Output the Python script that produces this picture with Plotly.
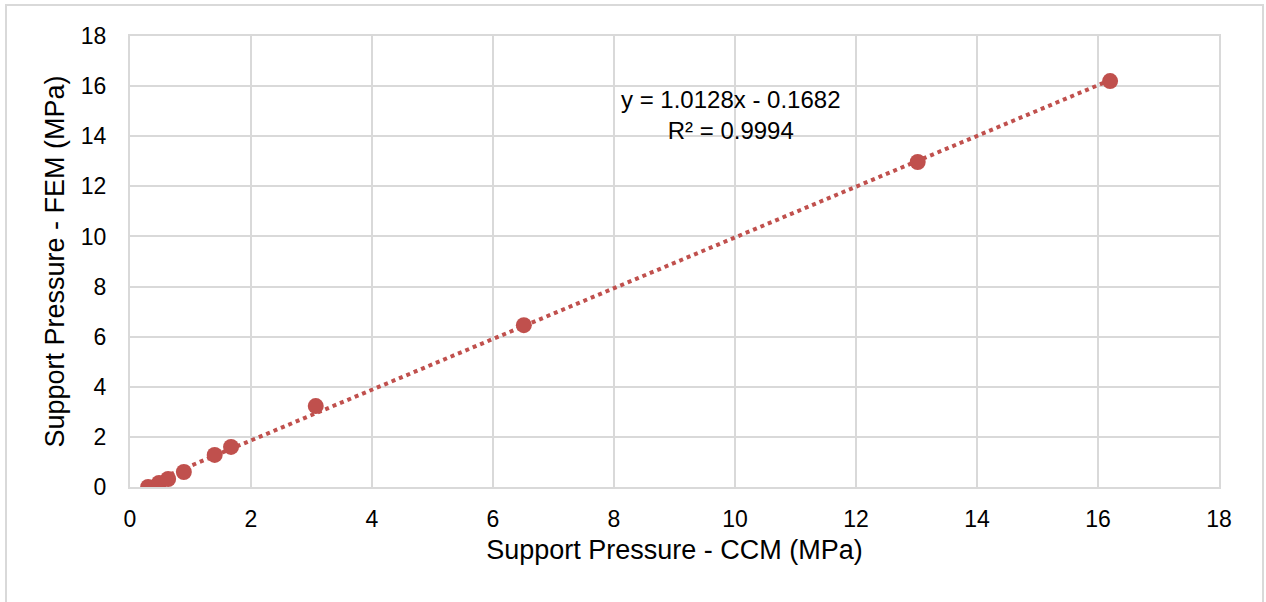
import plotly.graph_objects as go

ccm = [0.30, 0.48, 0.63, 0.89, 1.40, 1.67, 3.07, 6.51, 13.02, 16.20]
fem = [0.00, 0.16, 0.32, 0.60, 1.28, 1.60, 3.23, 6.46, 12.97, 16.20]
slope = 1.0128
intercept = -0.1682
r2 = 0.9994
ticks = [0, 2, 4, 6, 8, 10, 12, 14, 16, 18]

color = "#C0504D"
font = "Liberation Sans, Arial, sans-serif"

xmin, xmax = min(ccm), max(ccm)
trend_x = [xmin, xmax]
trend_y = [slope * v + intercept for v in trend_x]

fig = go.Figure()
fig.add_trace(go.Scatter(x=trend_x, y=trend_y, mode="lines",
                         line=dict(color=color, width=4, dash="4px,4px"),
                         hoverinfo="skip", showlegend=False))
fig.add_trace(go.Scatter(x=ccm, y=fem, mode="markers",
                         marker=dict(color=color, size=16, line=dict(width=0)),
                         showlegend=False))

fig.add_annotation(x=9.93, y=14.85, xref="x", yref="y", yanchor="middle",
                   text=f"y = {slope:.4f}x - {abs(intercept):.4f}<br>R² = {r2:.4f}",
                   showarrow=False, font=dict(family=font, size=24, color="#000"),
                   align="center")

axis_common = dict(range=[0, 18], tickvals=ticks, showgrid=True, gridcolor="#D9D9D9",
                   gridwidth=2, zeroline=False, showline=True, linecolor="#D9D9D9",
                   linewidth=2, mirror=True, ticks="",
                   tickfont=dict(family=font, size=23, color="#000"))

fig.update_xaxes(**axis_common, ticklabelstandoff=10,
                 title=dict(text="Support Pressure - CCM (MPa)",
                            font=dict(family=font, size=27, color="#000"), standoff=10))
fig.update_yaxes(**axis_common, ticklabelstandoff=17,
                 title=dict(text="Support Pressure - FEM (MPa)",
                            font=dict(family=font, size=27, color="#000"), standoff=8))

W, H = 1089, 451
fig.add_shape(type="rect", xref="paper", yref="paper",
              x0=(6 - 130) / W, x1=(1263 - 130) / W,
              y0=-(610 - 487) / H, y1=1 + (36 - 5) / H,
              line=dict(color="#D9D9D9", width=2), fillcolor="rgba(0,0,0,0)")

fig.update_layout(width=1266, height=602, plot_bgcolor="white", paper_bgcolor="white",
                  margin=dict(l=130, r=47, t=36, b=115),
                  font=dict(family=font))

fig.write_html("out.html", config={"displayModeBar": False},
               post_script="document.body.style.margin='0';")
